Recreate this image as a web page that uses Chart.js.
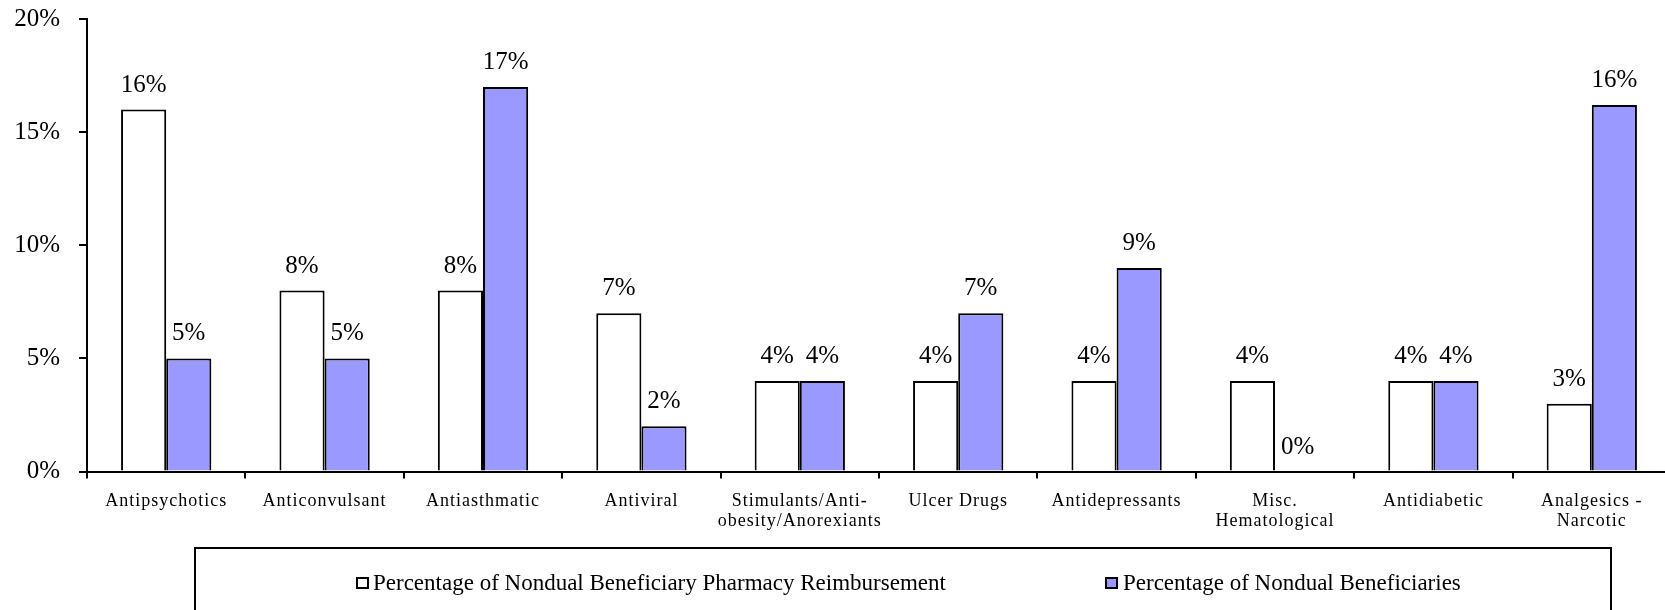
<!DOCTYPE html>
<html><head><meta charset="utf-8">
<script src="https://cdn.jsdelivr.net/npm/chart.js@4.4.1/dist/chart.umd.min.js"></script>
<style>
html,body{margin:0;padding:0;background:#fff;overflow:hidden;width:1665px;height:610px;}
#wrap{position:absolute;left:0;top:0;width:1672px;height:610px;}
#legendBox{position:absolute;left:194px;top:547px;width:1418px;height:200px;border:2px solid #000;box-sizing:border-box;}
.lt{position:absolute;font-family:"Liberation Serif","Times New Roman",serif;font-size:23px;line-height:23px;white-space:nowrap;color:#000;}
.sw{position:absolute;width:13px;height:12px;border:2px solid #000;box-sizing:border-box;}
</style></head>
<body>
<div id="wrap"><canvas id="c"></canvas></div>
<div id="legendBox"></div>
<script>
const categories = [
  'Antipsychotics', 'Anticonvulsant', 'Antiasthmatic', 'Antiviral',
  ['Stimulants/Anti-', 'obesity/Anorexiants'], 'Ulcer Drugs', 'Antidepressants',
  ['Misc.', 'Hematological'], 'Antidiabetic', ['Analgesics -', 'Narcotic']
];
const seriesNames = [
  'Percentage of Nondual Beneficiary Pharmacy Reimbursement',
  'Percentage of Nondual Beneficiaries'
];
const reimbursementPct = [16, 8, 8, 7, 4, 4, 4, 4, 4, 3];
const beneficiaryPct = [5, 5, 17, 2, 4, 7, 9, 0, 4, 16.2];
const yTickValues = [0, 5, 10, 15, 20];

const SERIF = '"Liberation Serif", "Times New Roman", serif';

const valueLabels = {
  id: 'valueLabels',
  afterDatasetsDraw(chart) {
    const ctx = chart.ctx;
    ctx.save();
    ctx.font = '25px ' + SERIF;
    ctx.fillStyle = '#000';
    ctx.textAlign = 'center';
    ctx.textBaseline = 'alphabetic';
    chart.data.datasets.forEach((ds, di) => {
      const meta = chart.getDatasetMeta(di);
      meta.data.forEach((el, i) => {
        const v = ds.data[i];
        ctx.fillText(Math.round(v) + '%', el.x, el.y - 18);
      });
    });
    ctx.restore();
  }
};

const spacedXLabels = {
  id: 'spacedXLabels',
  afterLayout(chart) {
    const sc = chart.scales.x;
    if (sc && !sc._spaced) {
      const orig = sc.drawLabels;
      sc.drawLabels = function (area) {
        const c = this.ctx;
        const prev = c.letterSpacing;
        c.letterSpacing = '1px';
        orig.call(this, area);
        c.letterSpacing = prev || '0px';
      };
      sc._spaced = true;
    }
  }
};

const chart = new Chart(document.getElementById('c'), {
  type: 'bar',
  data: {
    labels: categories,
    datasets: [
      { label: seriesNames[0], data: reimbursementPct, backgroundColor: '#FFFFFF', borderColor: '#000000', borderWidth: 2, borderSkipped: 'bottom' },
      { label: seriesNames[1], data: beneficiaryPct, backgroundColor: '#9999FF', borderColor: '#000000', borderWidth: 2, borderSkipped: 'bottom' }
    ]
  },
  options: {
    responsive: true,
    maintainAspectRatio: false,
    animation: false,
    events: [],
    layout: { padding: { left: 0, right: 1, top: 0, bottom: 70.5 } },
    datasets: { bar: { categoryPercentage: 0.57, barPercentage: 1.0 } },
    plugins: { legend: { display: false }, tooltip: { enabled: false } },
    scales: {
      x: {
        grid: { display: true, drawOnChartArea: false, drawTicks: true, tickLength: 7, color: '#000', lineWidth: 2, offset: true },
        border: { display: true, color: '#000', width: 2 },
        ticks: { color: '#000', font: { family: SERIF, size: 18, lineHeight: 1.111 }, padding: 12.5, maxRotation: 0, minRotation: 0, autoSkip: false },
        afterFit: s => { s.height = 68; }
      },
      y: {
        min: 0, max: 20,
        grid: { display: true, drawOnChartArea: false, drawTicks: true, tickLength: 8, color: '#000', lineWidth: 2 },
        border: { display: true, color: '#000', width: 2 },
        ticks: { color: '#000', font: { family: SERIF, size: 25, lineHeight: 1.2 }, padding: 19, callback: v => v + '%' },
        afterBuildTicks: s => { s.ticks = yTickValues.map(v => ({ value: v })); },
        afterFit: s => { s.width = 87; s.paddingTop = 19; s.paddingBottom = 0; }
      }
    }
  },
  plugins: [valueLabels, spacedXLabels]
});

// HTML legend built from the chart's datasets
const legendPos = [ { sw: 356, tx: 373 }, { sw: 1105, tx: 1123 } ];
chart.data.datasets.forEach((ds, i) => {
  const sw = document.createElement('div');
  sw.className = 'sw';
  sw.style.left = legendPos[i].sw + 'px';
  sw.style.top = '577px';
  sw.style.background = ds.backgroundColor;
  document.body.appendChild(sw);
  const t = document.createElement('div');
  t.className = 'lt';
  t.style.left = legendPos[i].tx + 'px';
  t.style.top = '571px';
  t.textContent = ds.label;
  document.body.appendChild(t);
});
</script>
</body></html>
